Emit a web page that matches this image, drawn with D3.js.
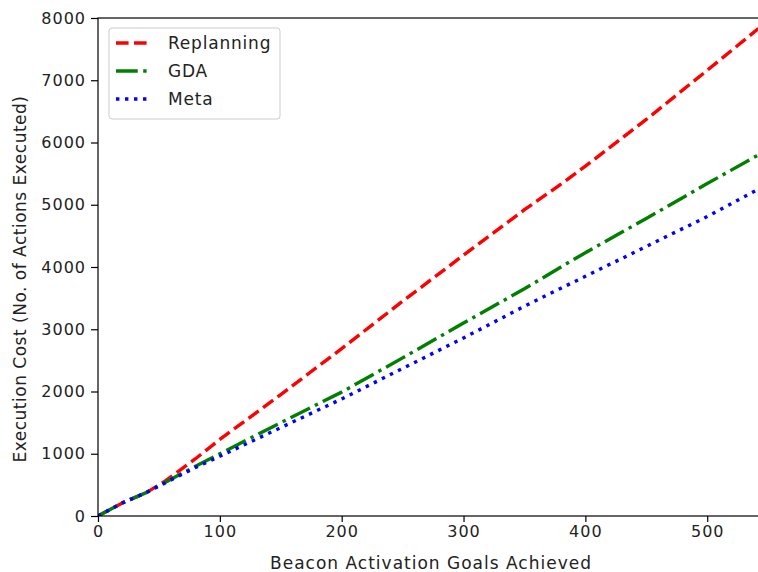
<!DOCTYPE html>
<html>
<head>
<meta charset="utf-8">
<script src="https://cdn.jsdelivr.net/npm/d3@7"></script>
<style>
  body { margin: 0; background: #fff; }
  svg { display: block; font-family: "DejaVu Sans", sans-serif; }
</style>
</head>
<body>
<svg id="chart"></svg>
<script>
// goals achieved (x) and cumulative execution cost per approach
const goals      = [0, 20, 40, 55, 80, 100, 150, 200, 250, 300, 350, 380, 400, 450, 500, 542];
const replanning = [0, 210, 380, 560, 920, 1230, 1950, 2690, 3450, 4190, 4920, 5330, 5620, 6370, 7160, 7830];
const gda        = [0, 210, 380, 540, 800, 1000, 1500, 1990, 2540, 3100, 3650, 4000, 4230, 4780, 5340, 5800];
const meta       = [0, 210, 380, 530, 780, 960, 1420, 1880, 2370, 2860, 3370, 3660, 3850, 4330, 4810, 5250];
const xTicks = [0, 100, 200, 300, 400, 500];
const yTicks = [0, 1000, 2000, 3000, 4000, 5000, 6000, 7000, 8000];

const width = 758, height = 572;
const margin = { top: 18, right: -1, bottom: 56, left: 98 };

const svg = d3.select('#chart')
  .attr('width', width)
  .attr('height', height);

const x = d3.scaleLinear().domain([0, 542.5]).range([margin.left, width - margin.right]);
const y = d3.scaleLinear().domain([0, 8000]).range([height - margin.bottom, margin.top]);

const lw = 3.4;
const series = [
  { name: 'Replanning', values: replanning, color: '#ff0000', dash: [3.7 * lw, 1.6 * lw] },
  { name: 'GDA', values: gda, color: '#008000', dash: [6.4 * lw, 1.6 * lw, 1 * lw, 1.6 * lw] },
  { name: 'Meta', values: meta, color: '#0000ff', dash: [1 * lw, 1.65 * lw] }
];

svg.append('defs').append('clipPath').attr('id', 'clip')
  .append('rect')
  .attr('x', margin.left).attr('y', margin.top)
  .attr('width', width - margin.right - margin.left)
  .attr('height', height - margin.bottom - margin.top);

const line = d3.line()
  .x(d => x(d[0]))
  .y(d => y(d[1]));

svg.append('g').attr('clip-path', 'url(#clip)')
  .selectAll('path')
  .data(series)
  .join('path')
  .attr('d', s => line(goals.map((g, i) => [g, s.values[i]])))
  .attr('fill', 'none')
  .attr('stroke', s => s.color)
  .attr('stroke-width', lw)
  .attr('stroke-dasharray', s => s.dash.join(','))
  .attr('stroke-linejoin', 'round');

// axes
const xAxis = svg.append('g')
  .attr('transform', `translate(0,${height - margin.bottom})`)
  .call(d3.axisBottom(x).tickValues(xTicks).tickSize(6).tickPadding(4).tickFormat(d3.format('d')));
const yAxis = svg.append('g')
  .attr('transform', `translate(${margin.left},0)`)
  .call(d3.axisLeft(y).tickValues(yTicks).tickSize(7).tickPadding(5).tickFormat(d3.format('d')));

[xAxis, yAxis].forEach(a => {
  a.select('.domain').remove();
  a.selectAll('line').attr('stroke', '#000').attr('stroke-width', 1.2);
  a.selectAll('text').attr('fill', '#222').attr('font-size', 16)
    .attr('letter-spacing', 1)
    .attr('font-family', '"DejaVu Sans", sans-serif');
});

// frame
svg.append('rect')
  .attr('x', margin.left).attr('y', margin.top)
  .attr('width', width - margin.right - margin.left)
  .attr('height', height - margin.bottom - margin.top)
  .attr('fill', 'none')
  .attr('stroke', '#000')
  .attr('stroke-width', 1.2);

svg.append('text')
  .attr('x', 431)
  .attr('y', 569)
  .attr('text-anchor', 'middle')
  .attr('font-size', 17)
  .attr('letter-spacing', 1)
  .attr('fill', '#222')
  .text('Beacon Activation Goals Achieved');

svg.append('text')
  .attr('transform', 'translate(26,279) rotate(-90)')
  .attr('text-anchor', 'middle')
  .attr('font-size', 17)
  .attr('letter-spacing', 0.5)
  .attr('fill', '#222')
  .text('Execution Cost (No. of Actions Executed)');

// legend
const legend = svg.append('g').attr('transform', 'translate(109,28)');
legend.append('rect')
  .attr('width', 171).attr('height', 91)
  .attr('rx', 3)
  .attr('fill', '#fff').attr('fill-opacity', 0.8)
  .attr('stroke', '#ccc').attr('stroke-width', 1);
const items = legend.selectAll('g.item')
  .data(series)
  .join('g')
  .attr('class', 'item')
  .attr('transform', (d, i) => `translate(0,${15 + i * 28})`);
items.append('line')
  .attr('x1', 7).attr('x2', 42)
  .attr('stroke', d => d.color)
  .attr('stroke-width', lw)
  .attr('stroke-dasharray', d => d.dash.join(','));
items.append('text')
  .attr('x', 59).attr('dy', '0.35em')
  .attr('font-size', 17)
  .attr('letter-spacing', 0.8)
  .attr('fill', '#222')
  .text(d => d.name);
</script>
</body>
</html>
